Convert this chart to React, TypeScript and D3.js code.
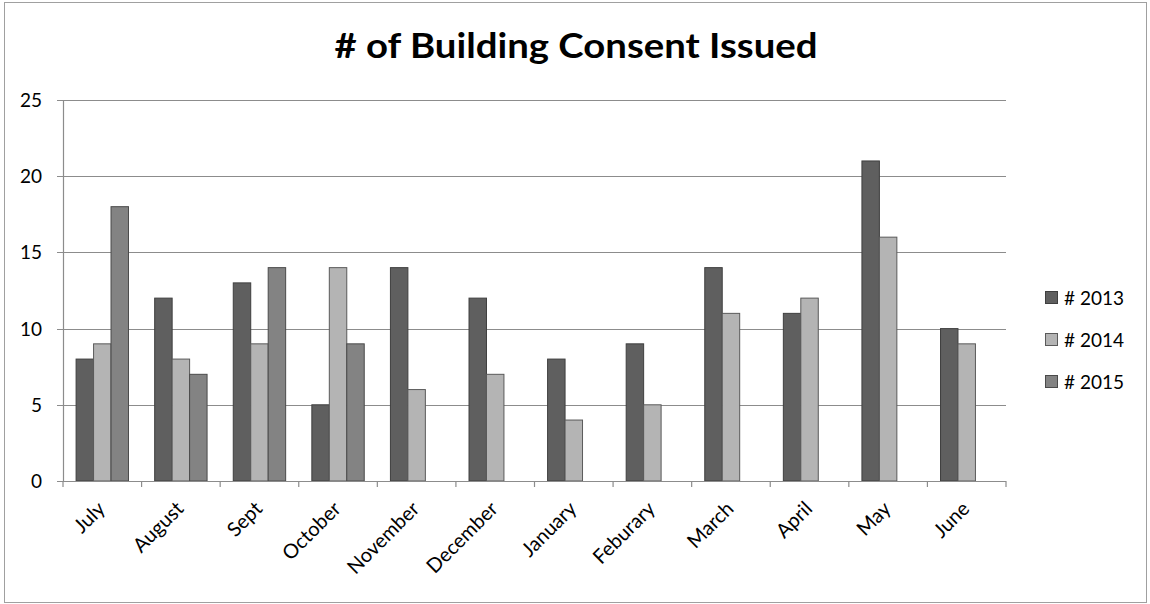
import React, { useEffect, useRef } from "react";
import * as d3 from "d3";

const months = ["July", "August", "Sept", "October", "November", "December", "January", "Feburary", "March", "April", "May", "June"];
const series = ["# 2013", "# 2014", "# 2015"];
const values2013 = [8, 12, 13, 5, 14, 12, 8, 9, 14, 11, 21, 10];
const values2014 = [9, 8, 9, 14, 6, 7, 4, 5, 11, 12, 16, 9];
const values2015: (number | null)[] = [18, 7, 14, 9, null, null, null, null, null, null, null, null];
const yTicks = [0, 5, 10, 15, 20, 25];
const colors = ["#5f5f5f", "#b4b4b4", "#838383"];
const strokes = ["#3f3f3f", "#5a5a5a", "#4a4a4a"];

export default function App() {
  const svgRef = useRef<SVGSVGElement>(null);

  useEffect(() => {
    if (!svgRef.current) return;
    const width = 1150;
    const height = 604;
    const svg = d3.select(svgRef.current);
    svg.selectAll("*").remove();
    svg.attr("width", width).attr("height", height);

    const font = "Lato, 'Open Sans', sans-serif";
    const left = 63, right = 1006, top = 100, bottom = 481;

    // outer frame
    svg.append("rect")
      .attr("x", 4.5).attr("y", 2.5)
      .attr("width", 1142).attr("height", 600)
      .attr("fill", "white")
      .attr("stroke", "#a0a0a0");

    svg.append("text")
      .attr("x", 576).attr("y", 58)
      .attr("text-anchor", "middle")
      .attr("textLength", 483)
      .attr("lengthAdjust", "spacingAndGlyphs")
      .style("font-family", font)
      .style("font-weight", "bold")
      .style("font-size", "35px")
      .text("# of Building Consent Issued");

    const x = d3.scaleBand<string>().domain(months).range([left, right]).padding(0);
    const y = d3.scaleLinear().domain([0, 25]).range([bottom, top]);
    const bw = x.bandwidth() / 4.5;

    // grid
    yTicks.forEach((t) => {
      svg.append("line")
        .attr("x1", left - 6).attr("x2", right)
        .attr("y1", Math.round(y(t)) + 0.5).attr("y2", Math.round(y(t)) + 0.5)
        .attr("stroke", "#8c8c8c").attr("stroke-width", 1.2);
      svg.append("text")
        .attr("x", 42).attr("y", y(t) + 7)
        .attr("text-anchor", "end")
        .style("font-family", font)
        .style("font-size", "19px")
        .text(t);
    });

    const all = [values2013, values2014, values2015];
    all.forEach((vals, si) => {
      vals.forEach((v, i) => {
        if (v == null) return;
        const bx = (x(months[i]) ?? 0) + bw * 0.75 + si * bw;
        svg.append("rect")
          .attr("x", bx).attr("y", y(v))
          .attr("width", bw).attr("height", y(0) - y(v))
          .attr("fill", colors[si])
          .attr("stroke", strokes[si])
          .attr("stroke-width", 1);
      });
    });

    // axes
    svg.append("line")
      .attr("x1", left + 0.5).attr("x2", left + 0.5)
      .attr("y1", top).attr("y2", bottom)
      .attr("stroke", "#8c8c8c").attr("stroke-width", 1.2);
    svg.append("line")
      .attr("x1", left).attr("x2", right)
      .attr("y1", bottom + 0.5).attr("y2", bottom + 0.5)
      .attr("stroke", "#8c8c8c").attr("stroke-width", 1.2);

    [...months.map((m) => x(m) ?? 0), right].forEach((tx) => {
      svg.append("line")
        .attr("x1", tx).attr("x2", tx)
        .attr("y1", bottom).attr("y2", bottom + 6)
        .attr("stroke", "#8c8c8c").attr("stroke-width", 1.2);
    });

    months.forEach((m) => {
      const cx = (x(m) ?? 0) + x.bandwidth() / 2 + 4;
      svg.append("text")
        .attr("transform", `translate(${cx},${bottom + 29}) rotate(-45)`)
        .attr("text-anchor", "end")
        .style("font-family", font)
        .style("font-size", "20px")
        .text(m);
    });

    // legend
    series.forEach((s, i) => {
      const ly = 297.5 + i * 42;
      svg.append("rect")
        .attr("x", 1045.5).attr("y", ly - 6)
        .attr("width", 12).attr("height", 12)
        .attr("fill", colors[i])
        .attr("stroke", strokes[i]);
      svg.append("text")
        .attr("x", 1064).attr("y", ly + 7)
        .style("font-family", font)
        .style("font-size", "19px")
        .text(s);
    });
  }, []);

  return <svg ref={svgRef} style={{ position: "absolute", left: 0, top: 0 }} />;
}
